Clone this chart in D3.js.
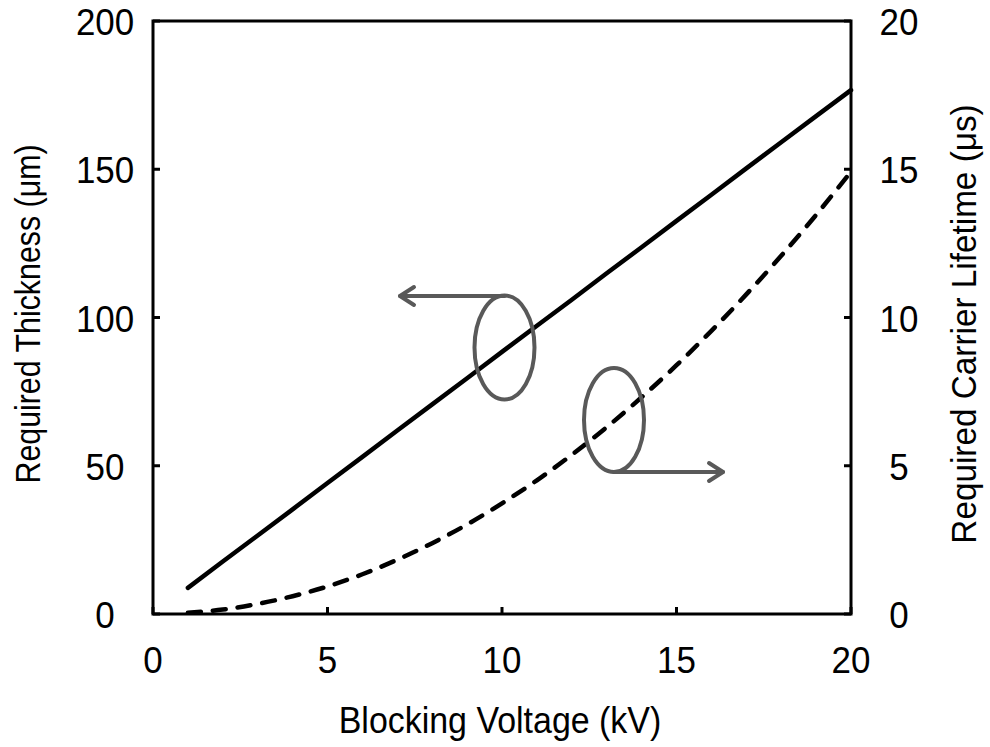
<!DOCTYPE html>
<html><head><meta charset="utf-8">
<script src="https://cdn.jsdelivr.net/npm/d3@7"></script>
<style>
html,body{margin:0;padding:0;background:#fff;}
text{font-family:"Liberation Sans",Arial,sans-serif;fill:#000;}
</style></head>
<body><svg id="c" width="990" height="747"></svg>
<script>
const voltage = [1,2,3,4,5,6,7,8,9,10,11,12,13,14,15,16,17,18,19,20];
const thickness = [8.8,17.7,26.5,35.3,44.2,53.0,61.9,70.7,79.5,88.4,97.2,106.0,114.9,123.7,132.6,141.4,150.3,159.1,167.9,176.7];
const lifetime = [0.04,0.15,0.34,0.60,0.93,1.34,1.83,2.39,3.02,3.73,4.51,5.37,6.30,7.31,8.39,9.55,10.78,12.08,13.46,14.92];
const xTicks = [0,5,10,15,20];
const yLeftTicks = [0,50,100,150,200];
const yRightTicks = [0,5,10,15,20];

const svg = d3.select("#c");
const L=153, R=851, T=21, B=614;
const x = d3.scaleLinear().domain([0,20]).range([L,R]);
const yL = d3.scaleLinear().domain([0,200]).range([B,T]);
const yR = d3.scaleLinear().domain([0,20]).range([B,T]);
const fs = 36;
const stretch = "scale(0.97,1.03)";

// lines
svg.append("path").datum(voltage.map((v,i)=>[v,thickness[i]]))
  .attr("d", d3.line().x(d=>x(d[0])).y(d=>yL(d[1])))
  .attr("fill","none").attr("stroke","#000").attr("stroke-width",4.5).attr("stroke-linecap","round");
svg.append("path").datum(voltage.map((v,i)=>[v,lifetime[i]]))
  .attr("d", d3.line().curve(d3.curveMonotoneX).x(d=>x(d[0])).y(d=>yR(d[1])))
  .attr("fill","none").attr("stroke","#000").attr("stroke-width",4.5)
  .attr("stroke-dasharray","13,12").attr("stroke-linecap","round");

// frame
svg.append("rect").attr("x",L).attr("y",T).attr("width",R-L).attr("height",B-T)
  .attr("fill","none").attr("stroke","#000").attr("stroke-width",3);

function label(px,py,t,size,tr){
  svg.append("text").attr("transform",`translate(${px},${py}) ${tr||stretch}`)
    .attr("text-anchor","middle").attr("font-size",size||fs).text(t);
}
// ticks inside
const tl = 7;
xTicks.forEach(t=>{
  svg.append("line").attr("x1",x(t)).attr("x2",x(t)).attr("y1",B).attr("y2",B-tl).attr("stroke","#000").attr("stroke-width",3);
  label(x(t),B+59,t);
});
yLeftTicks.forEach(t=>{
  svg.append("line").attr("x1",L).attr("x2",L+tl).attr("y1",yL(t)).attr("y2",yL(t)).attr("stroke","#000").attr("stroke-width",3);
  label(105,yL(t)+14,t);
});
yRightTicks.forEach(t=>{
  svg.append("line").attr("x1",R).attr("x2",R-tl).attr("y1",yR(t)).attr("y2",yR(t)).attr("stroke","#000").attr("stroke-width",3);
  label(899,yR(t)+14,t);
});

// titles
label(500,733,"Blocking Voltage (kV)",35,"scale(0.97,1.05)");
svg.append("text").attr("transform","translate(40,314) rotate(-90) scale(0.92,1.05)").attr("text-anchor","middle").attr("font-size",33).text("Required Thickness (μm)");
svg.append("text").attr("transform","translate(976,324) rotate(-90) scale(0.98,1.05)").attr("text-anchor","middle").attr("font-size",34).text("Required Carrier Lifetime (μs)");

// annotations
const g = svg.append("g").attr("stroke","#595959").attr("stroke-width",4).attr("fill","none").attr("stroke-linecap","round").attr("stroke-linejoin","round");
g.append("ellipse").attr("cx",504.5).attr("cy",347.5).attr("rx",30).attr("ry",52);
g.append("line").attr("x1",504.5).attr("y1",296).attr("x2",400).attr("y2",296);
g.append("path").attr("d","M414,287 L400,296 L414,305");
g.append("ellipse").attr("cx",614).attr("cy",420).attr("rx",30).attr("ry",52);
g.append("line").attr("x1",614).attr("y1",472).attr("x2",723).attr("y2",472);
g.append("path").attr("d","M709,463 L723,472 L709,481");
</script></body></html>
